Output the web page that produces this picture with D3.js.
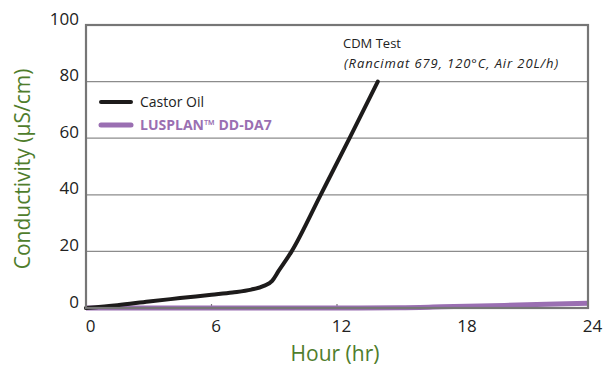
<!DOCTYPE html>
<html>
<head>
<meta charset="utf-8">
<script src="https://cdn.jsdelivr.net/npm/d3@7"></script>
<style>
  body { margin: 0; background: #fff; }
  svg { display: block; font-family: "Open Sans", "Noto Sans", sans-serif; }
</style>
</head>
<body>
<svg id="chart" width="611" height="370"></svg>
<script>
// data
const castorHours = [0, 1.5, 3, 4.5, 6, 7, 7.9, 8.5, 8.9, 9.2, 9.83, 11.22, 12.6, 13.95];
const castorValues = [0, 1.0, 2.3, 3.5, 4.7, 5.5, 6.5, 7.8, 9.6, 13, 20, 40, 60, 80];
const lusplanHours = [0, 6, 12, 15, 17, 20, 22, 24];
const lusplanValues = [0, 0, 0, 0.1, 0.4, 0.9, 1.3, 1.7];
const xTicks = [0, 6, 12, 18, 24];
const yTicks = [0, 20, 40, 60, 80, 100];
const seriesNames = ["Castor Oil", "LUSPLAN™ DD-DA7"];
const seriesColors = ["#1d1b1b", "#9a6fb2"];

const svg = d3.select("#chart");
const plotLeft = 86, plotRight = 588, plotTop = 25, plotBottom = 308;

const x = d3.scaleLinear().domain([0, 24]).range([plotLeft, plotRight]);
const y = d3.scaleLinear().domain([0, 100]).range([plotBottom, plotTop]);

// gridlines
svg.append("g")
    .selectAll("line")
    .data(yTicks.filter(d => d > 0 && d < 100))
    .join("line")
    .attr("x1", plotLeft).attr("x2", plotRight)
    .attr("y1", d => y(d)).attr("y2", d => y(d))
    .attr("stroke", "#8c8c8c")
    .attr("stroke-width", 1.2);

// y axis labels (sit a bit above their lines)
let yAxis = svg.append("g")
    .attr("transform", "translate(" + plotLeft + ",0)")
    .call(d3.axisLeft(y).tickValues(yTicks).tickSize(0).tickPadding(7));
yAxis.select(".domain").remove();
yAxis.selectAll("text")
    .attr("dy", "-0.05em")
    .attr("font-size", 17)
    .attr("font-family", "'Open Sans', sans-serif")
    .attr("fill", "#222");

// x axis labels
let xAxis = svg.append("g")
    .attr("transform", "translate(0," + plotBottom + ")")
    .call(d3.axisBottom(x).tickValues(xTicks).tickSize(0).tickPadding(11));
xAxis.select(".domain").remove();
xAxis.selectAll("text")
    .attr("dx", 4)
    .attr("dy", "0.75em")
    .attr("font-size", 17)
    .attr("font-family", "'Open Sans', sans-serif")
    .attr("fill", "#222");

// small inner ticks on the bottom
svg.append("g")
    .selectAll("line")
    .data(xTicks.slice(1, -1))
    .join("line")
    .attr("x1", d => x(d)).attr("x2", d => x(d))
    .attr("y1", plotBottom).attr("y2", plotBottom - 4)
    .attr("stroke", "#777")
    .attr("stroke-width", 1.2);

// lines
let line = d3.line()
    .x(d => x(d[0]))
    .y(d => y(d[1]))
    .curve(d3.curveMonotoneX);

svg.append("path")
    .datum(lusplanHours.map((h, i) => [h, lusplanValues[i]]))
    .attr("fill", "none")
    .attr("stroke", seriesColors[1])
    .attr("stroke-width", 5)
    .attr("d", line);

svg.append("path")
    .datum(castorHours.map((h, i) => [h, castorValues[i]]))
    .attr("fill", "none")
    .attr("stroke", seriesColors[0])
    .attr("stroke-width", 4)
    .attr("stroke-linejoin", "round")
    .attr("stroke-linecap", "round")
    .attr("d", line);

// frame
svg.append("rect")
    .attr("x", plotLeft).attr("y", plotTop)
    .attr("width", plotRight - plotLeft).attr("height", plotBottom - plotTop)
    .attr("fill", "none")
    .attr("stroke", "#767676")
    .attr("stroke-width", 2.2);

// legend
let legend = svg.append("g");
seriesNames.forEach((name, i) => {
    let ly = 102 + i * 23;
    legend.append("line")
        .attr("x1", 101).attr("x2", 131)
        .attr("y1", ly).attr("y2", ly)
        .attr("stroke", seriesColors[i])
        .attr("stroke-width", i == 0 ? 4 : 5)
        .attr("stroke-linecap", "round");
    legend.append("text")
        .attr("x", 140).attr("y", ly)
        .attr("dy", "0.35em")
        .attr("font-size", 14)
        .attr("font-weight", i == 0 ? "normal" : "bold")
        .attr("fill", i == 0 ? "#222" : seriesColors[1])
        .text(name);
});

// test note
svg.append("text")
    .attr("x", 343).attr("y", 43)
    .attr("dy", "0.35em")
    .attr("font-size", 13)
    .attr("fill", "#222")
    .text("CDM Test");
svg.append("text")
    .attr("x", 344).attr("y", 63)
    .attr("dy", "0.35em")
    .attr("font-size", 13)
    .attr("font-style", "italic")
    .attr("letter-spacing", 0.9)
    .attr("fill", "#222")
    .text("(Rancimat 679, 120°C, Air 20L/h)");

// axis titles
svg.append("text")
    .attr("x", 335).attr("y", 354)
    .attr("dy", "0.35em")
    .attr("text-anchor", "middle")
    .attr("font-size", 21)
    .attr("fill", "#4f7d2c")
    .text("Hour (hr)");

svg.append("text")
    .attr("transform", "translate(23,169) rotate(-90)")
    .attr("dy", "0.35em")
    .attr("text-anchor", "middle")
    .attr("font-size", 21)
    .attr("fill", "#4f7d2c")
    .text("Conductivity (μS/cm)");
</script>
</body>
</html>
